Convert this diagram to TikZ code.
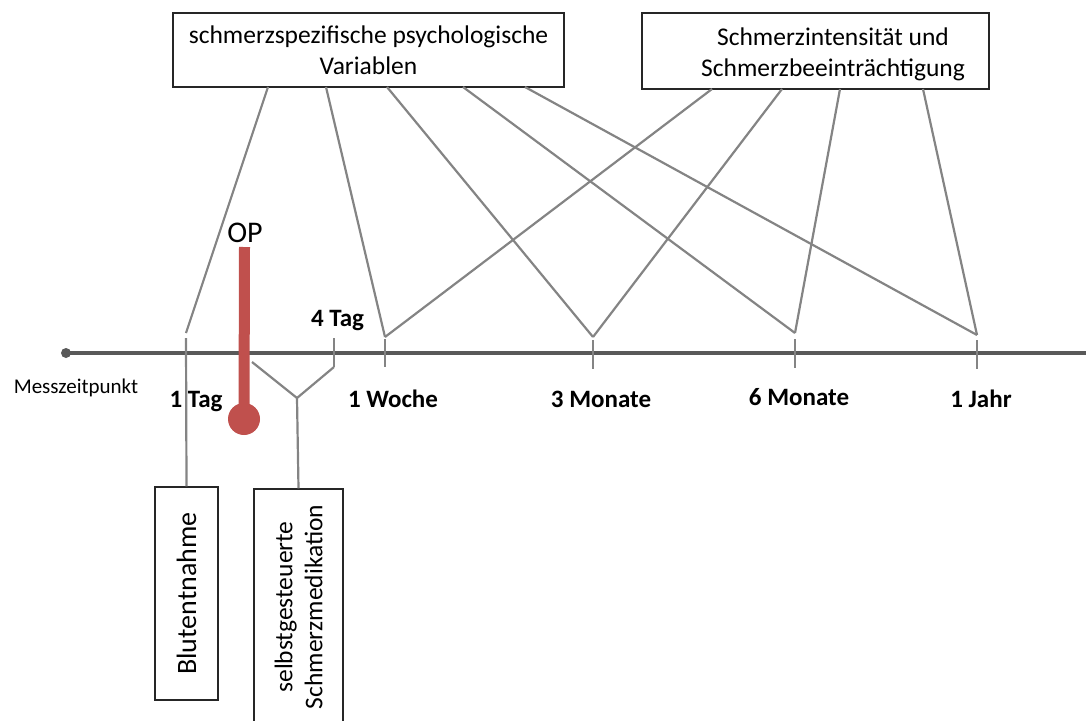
\documentclass[tikz,border=0pt]{standalone}
\usepackage{fontspec}
\setmainfont{Carlito}
\definecolor{linkgray}{RGB}{132,132,132}
\definecolor{axisgray}{RGB}{89,89,89}
\definecolor{opred}{RGB}{192,80,77}
\begin{document}
\begin{tikzpicture}[x=1pt,y=-1pt,
  frame/.style={draw=black!85, line width=1.3pt, fill=white, inner sep=0pt},
  boxtext/.style={font=\fontsize{25.5}{31}\selectfont, align=center, inner sep=0pt},
  link/.style={draw=linkgray, line width=2.2pt},
  axis/.style={draw=axisgray, line width=4pt},
  when/.style={font=\fontsize{25}{28}\selectfont\bfseries, anchor=base, inner sep=0pt},
]
\clip (0,0) rectangle (1086,720);

% variable groups
\node[frame, minimum width=391pt, minimum height=74pt, boxtext] (psy) at (368.5,50)
  {schmerzspezifische psychologische\\Variablen};
\node[frame, minimum width=347pt, minimum height=76pt] (intens) at (815.5,51) {};
\node[boxtext] (intenslbl) at (833,54) {Schmerzintensität und\\Schmerzbeeinträchtigung};

% connector start points on the box edges
\coordinate (p1) at (268,87);
\coordinate (p2) at (326,87);
\coordinate (p3) at (387,87);
\coordinate (p4) at (463,87);
\coordinate (p5) at (525,87);
\coordinate (q1) at (712,89);
\coordinate (q2) at (782,89);
\coordinate (q3) at (840,89);
\coordinate (q4) at (923,89);

% measurement points
\coordinate (m1) at (186,333);
\coordinate (mw) at (385,337);
\coordinate (m3) at (593,337);
\coordinate (m6) at (795,333);
\coordinate (mj) at (977,335);

% time axis
\node[circle, fill=axisgray, minimum size=10pt, inner sep=0pt] (start) at (66,353) {};
\coordinate (axisend) at (1090,353);
\draw[axis] (start.center) -- (axisend);

% ticks
\coordinate (k1) at (186,338);
\coordinate (k4a) at (334,338);
\coordinate (k4b) at (334,367);
\coordinate (kwa) at (385,339);
\coordinate (kwb) at (385,367);
\coordinate (k3a) at (593,340);
\coordinate (k3b) at (593,369);
\coordinate (k6a) at (795,339);
\coordinate (k6b) at (795,368);
\coordinate (kja) at (977,340);
\coordinate (kjb) at (977,369);
\draw[link] (k4a) -- (k4b);
\draw[link] (kwa) -- (kwb);
\draw[link] (k3a) -- (k3b);
\draw[link] (k6a) -- (k6b);
\draw[link] (kja) -- (kjb);

% connectors from the variable groups
\draw[link] (p1) -- (m1);
\draw[link] (p2) -- (mw);
\draw[link] (p3) -- (m3);
\draw[link] (p4) -- (m6);
\draw[link] (p5) -- (mj);
\draw[link] (q1) -- (mw);
\draw[link] (q2) -- (m3);
\draw[link] (q3) -- (m6);
\draw[link] (q4) -- (mj);

% lower boxes
\node[frame, rotate=90, minimum width=213pt, minimum height=63pt,
      font=\fontsize{28}{30}\selectfont] (blut) at (186.5,593.5) {Blutentnahme};
\node[frame, rotate=90, minimum width=236pt, minimum height=89pt,
      font=\fontsize{25.5}{30}\selectfont, align=center] (med) at (298.5,607)
  {selbstgesteuerte\\Schmerzmedikation};

\draw[link] (k1) -- (blut.east);
\coordinate (fork) at (297,398);
\coordinate (opfoot) at (252,362);
\draw[link] (k4b) -- (fork);
\draw[link] (opfoot) -- (fork);
\draw[link] (fork) -- (med.east);

% surgery marker
\coordinate (optop) at (244.5,247);
\node[circle, fill=opred, minimum size=32pt, inner sep=0pt] (opdot) at (244,419) {};
\draw[opred, line width=11pt] (opdot.center) -- (optop);
\node[font=\fontsize{30}{32}\selectfont, anchor=base, inner sep=0pt] (op) at (245,242) {OP};

% time labels
\node[font=\fontsize{21}{24}\selectfont, anchor=base, inner sep=0pt] (mz) at (76,393) {Messzeitpunkt};
\node[when] (l1) at (196,407) {1 Tag};
\node[when] (l4) at (337.5,326) {4 Tag};
\node[when] (lw) at (393,407) {1 Woche};
\node[when] (l3) at (601,407) {3 Monate};
\node[when] (l6) at (799,405) {6 Monate};
\node[when] (lj) at (981,407) {1 Jahr};
\end{tikzpicture}
\end{document}
